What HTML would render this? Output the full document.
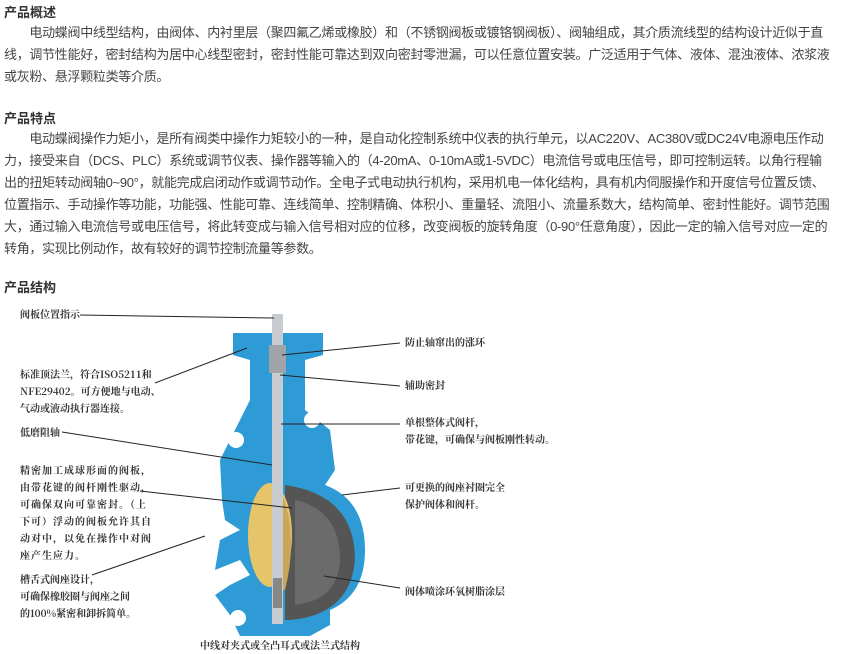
<!DOCTYPE html>
<html><head><meta charset="utf-8"><style>
body{margin:0;width:843px;height:654px;background:#fff;overflow:hidden;font-family:"Liberation Sans","Noto Sans CJK SC",sans-serif;color:#333;position:relative}
.h{position:absolute;left:4px;font-size:13px;font-weight:bold;color:#333}
.p{position:absolute;left:4px;width:900px;font-size:13px;letter-spacing:-0.3px;line-height:22px;color:#444;white-space:nowrap}
.l{position:absolute;font-family:"Noto Serif CJK SC",serif;font-size:10px;font-weight:bold;color:#333;line-height:17px;white-space:nowrap}
</style></head><body>
<div class="h" style="top:2px">产品概述</div>
<div class="p" style="top:22px">&emsp;&emsp;电动蝶阀中线型结构，由阀体、内衬里层（聚四氟乙烯或橡胶）和（不锈钢阀板或镀铬钢阀板）、阀轴组成，其介质流线型的结构设计近似于直<br>线，调节性能好，密封结构为居中心线型密封，密封性能可靠达到双向密封零泄漏，可以任意位置安装。广泛适用于气体、液体、混浊液体、浓浆液<br>或灰粉、悬浮颗粒类等介质。</div>
<div class="h" style="top:108px">产品特点</div>
<div class="p" style="top:128px">&emsp;&emsp;电动蝶阀操作力矩小，是所有阀类中操作力矩较小的一种，是自动化控制系统中仪表的执行单元，以AC220V、AC380V或DC24V电源电压作动<br>力，接受来自（DCS、PLC）系统或调节仪表、操作器等输入的（4-20mA、0-10mA或1-5VDC）电流信号或电压信号，即可控制运转。以角行程输<br>出的扭矩转动阀轴0~90°，就能完成启闭动作或调节动作。全电子式电动执行机构，采用机电一体化结构，具有机内伺服操作和开度信号位置反馈、<br>位置指示、手动操作等功能，功能强、性能可靠、连线简单、控制精确、体积小、重量轻、流阻小、流量系数大，结构简单、密封性能好。调节范围<br>大，通过输入电流信号或电压信号，将此转变成与输入信号相对应的位移，改变阀板的旋转角度（0-90°任意角度），因此一定的输入信号对应一定的<br>转角，实现比例动作，故有较好的调节控制流量等参数。</div>
<div class="h" style="top:277px">产品结构</div>
<svg style="position:absolute;left:0;top:0" width="843" height="654">
<path d="M233 333 L323 333 L323 355 L305 360 L305 410 L330 430 L335 470 L325 485 Q365 500 365 550 Q365 595 330 610 L330 625 L310 636 L240 636 L230 615 L215 595 L230 585 L250 575 L240 560 L215 570 L220 540 L240 530 L225 520 L222 500 L220 460 L240 420 L250 400 L250 360 L233 355 Z" fill="#2e9bd6"/>
<circle cx="236" cy="440" r="8" fill="#fff"/><circle cx="312" cy="420" r="8" fill="#fff"/><circle cx="238" cy="618" r="8" fill="#fff"/>
<path d="M285 485 Q355 495 355 560 Q350 615 290 620 L285 620 Z" fill="#555"/>
<path d="M295 500 Q340 510 340 560 Q338 600 295 605 Z" fill="#6b6b6b"/>
<ellipse cx="270" cy="535" rx="22" ry="52" fill="#e6c46a"/>
<path d="M278 485 Q300 530 285 590 L278 590 Z" fill="#c9a75a"/>
<rect x="272" y="314" width="11" height="310" fill="#c8ccd0"/>
<rect x="269" y="345" width="17" height="28" fill="#a0a4a8"/>
<rect x="273" y="578" width="9" height="30" fill="#888"/>
<g stroke="#222" stroke-width="1" fill="none">
<line x1="80" y1="315" x2="274" y2="318"/>
<line x1="400" y1="343" x2="282" y2="355"/>
<line x1="155" y1="383" x2="247" y2="348"/>
<line x1="400" y1="386" x2="280" y2="375"/>
<line x1="400" y1="424" x2="281" y2="424"/>
<line x1="62" y1="432" x2="272" y2="465"/>
<line x1="140" y1="491" x2="292" y2="508"/>
<line x1="400" y1="488" x2="342" y2="495"/>
<line x1="92" y1="575" x2="205" y2="536"/>
<line x1="400" y1="588" x2="324" y2="576"/>
</g>
</svg>
<div class="l" style="left:20px;top:305px">阀板位置指示</div>
<div class="l" style="left:405px;top:333px">防止轴窜出的涨环</div>
<div class="l" style="left:20px;top:365px">标准顶法兰，符合ISO5211和<br>NFE29402。可方便地与电动、<br>气动或液动执行器连接。</div>
<div class="l" style="left:405px;top:376px">辅助密封</div>
<div class="l" style="left:405px;top:413px">单根整体式阀杆，<br>带花键，可确保与阀板刚性转动。</div>
<div class="l" style="left:20px;top:423px">低磨阻轴</div>
<div class="l" style="left:20px;top:461px;letter-spacing:1px">精密加工成球形面的阀板，<br>由带花键的阀杆刚性驱动，<br>可确保双向可靠密封。（上<br>下可）浮动的阀板允许其自<br>动对中，以免在操作中对阀<br>座产生应力。</div>
<div class="l" style="left:405px;top:478px">可更换的阀座衬圈完全<br>保护阀体和阀杆。</div>
<div class="l" style="left:20px;top:570px">槽舌式阀座设计，<br>可确保橡胶圈与阀座之间<br>的100%紧密和卸拆简单。</div>
<div class="l" style="left:405px;top:582px">阀体喷涂环氧树脂涂层</div>
<div class="l" style="left:200px;top:636px">中线对夹式或全凸耳式或法兰式结构</div>
</body></html>
